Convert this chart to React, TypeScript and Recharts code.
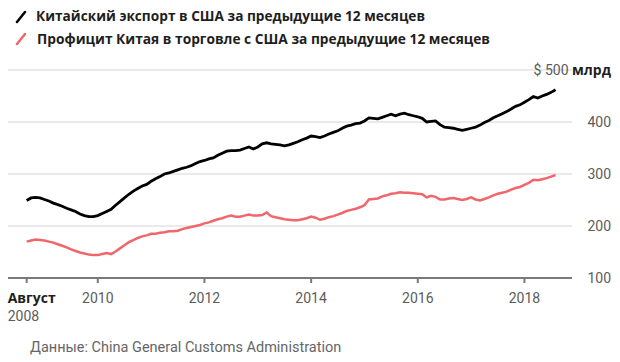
import { LineChart, Line, XAxis, YAxis, CartesianGrid } from 'recharts';

// Китайский экспорт в США за 12 мес., млрд $ (помесячно с авг. 2008)
const chinaExports = [
  249, 254, 255, 254, 251, 248, 244, 241, 238, 234,
  231, 228, 223, 220, 218, 218, 220, 224, 228, 232,
  240, 247, 254, 261, 267, 272, 277, 280, 286, 291,
  295, 300, 302, 305, 308, 311, 313, 316, 320, 324,
  326, 329, 331, 336, 340, 344, 345, 345, 346, 349,
  352, 348, 352, 358, 360, 358, 357, 356, 354, 356,
  359, 362, 366, 369, 373, 372, 370, 373, 377, 380,
  383, 388, 392, 394, 397, 398, 402, 408, 407, 406,
  409, 412, 415, 412, 415, 417, 414, 412, 410, 407,
  400, 401, 402, 395, 390, 389, 388, 386, 384, 386,
  388, 390, 394, 399, 403, 408, 412, 416, 420, 425,
  430, 433, 438, 443, 449, 446, 450, 453, 457, 462,
];

// Профицит Китая в торговле с США за 12 мес., млрд $
const tradeSurplus = [
  170, 172, 174, 173, 172, 170, 168, 165, 162, 159,
  155, 152, 149, 147, 145, 144, 144, 146, 148, 146,
  151, 157, 163, 169, 173, 177, 180, 182, 185, 185,
  187, 188, 190, 190, 191, 194, 196, 198, 200, 202,
  205, 207, 210, 213, 215, 218, 220, 218, 218, 220,
  222, 220, 220, 221, 226, 219, 217, 215, 213, 212,
  211, 211, 213, 215, 218, 216, 212, 214, 217, 219,
  222, 225, 229, 231, 233, 236, 240, 251, 252, 253,
  257, 259, 262, 263, 265, 264, 264, 263, 262, 261,
  255, 258, 256, 251, 251, 253, 254, 252, 250, 252,
  255, 251, 249, 252, 255, 259, 262, 264, 266, 270,
  273, 275, 279, 283, 289, 288, 290, 292, 295, 298,
];

const xTicks = [0, 16, 40, 64, 88, 112];
const xTickLabels = ['Август', '2010', '2012', '2014', '2016', '2018'];
const yTicks = [100, 200, 300, 400, 500];

const data = chinaExports.map((v, i) => ({
  month: i,
  exports: v,
  surplus: tradeSurplus[i],
}));

const FONT = 'Roboto, "Noto Sans", sans-serif';
const BOLD_FONT = '"Open Sans", "Noto Sans", sans-serif';
const GRAY = '#5c5c5c';
const RED = '#f0666b';

function XTick(props: any) {
  const { x, y, payload } = props;
  const idx = xTicks.indexOf(payload.value);
  if (idx === 0) {
    return (
      <g fontSize={14}>
        <text x={x - 19} y={y + 20} fill="#1e1e1e" fontWeight={700} fontFamily={BOLD_FONT}
          textLength={48} lengthAdjust="spacingAndGlyphs">
          {xTickLabels[0]}
        </text>
        <text x={x - 19} y={y + 38} fill={GRAY} fontFamily={FONT}>2008</text>
      </g>
    );
  }
  return (
    <text x={x} y={y + 20} textAnchor="middle" fontFamily={FONT} fontSize={14} fill={GRAY}>
      {xTickLabels[idx]}
    </text>
  );
}

function YTick(props: any) {
  const { x, y, payload } = props;
  if (payload.value === 500) {
    return (
      <text x={x + 39} y={y + 5} textAnchor="end" fontFamily={FONT} fontSize={14} fill={GRAY}>
        <tspan>$ 500 </tspan>
        <tspan fill="#1e1e1e" fontWeight={700} fontFamily={BOLD_FONT}>млрд</tspan>
      </text>
    );
  }
  return (
    <text x={x + 39} y={y + 5} textAnchor="end" fontFamily={FONT} fontSize={14} fill={GRAY}>
      {payload.value}
    </text>
  );
}

export default function App() {
  return (
    <div style={{ position: 'relative', width: 620, height: 362, background: '#fff', fontFamily: FONT }}>
      <style>{'body{margin:0}'}</style>

      <div style={{ position: 'absolute', left: 0, top: 0 }}>
        <LineChart
          width={620}
          height={362}
          data={data}
          margin={{ top: 70, right: 8, left: 8, bottom: 54 }}
        >
          <CartesianGrid vertical={false} stroke="#e3e3e3" strokeWidth={1.5} />
          <XAxis
            dataKey="month"
            type="number"
            domain={[-4.2, 122.7]}
            ticks={xTicks}
            interval={0}
            tick={<XTick />}
            tickSize={5}
            tickMargin={0}
            height={30}
            axisLine={{ stroke: '#7a7a7a', strokeWidth: 2 }}
            tickLine={{ stroke: '#7a7a7a', strokeWidth: 2 }}
          />
          <YAxis
            orientation="right"
            domain={[100, 500]}
            ticks={yTicks}
            interval={0}
            width={40}
            tickSize={0}
            tickMargin={0}
            axisLine={false}
            tickLine={false}
            tick={<YTick />}
          />
          <Line
            type="linear"
            dataKey="surplus"
            stroke={RED}
            strokeWidth={2.5}
            dot={false}
            isAnimationActive={false}
          />
          <Line
            type="linear"
            dataKey="exports"
            stroke="#000"
            strokeWidth={2.8}
            dot={false}
            isAnimationActive={false}
          />
        </LineChart>
      </div>

      {/* легенда */}
      <svg style={{ position: 'absolute', left: 0, top: 0 }} width={620} height={60}>
        <line x1={17} y1={22} x2={25} y2={12} stroke="#000" strokeWidth={2.5} strokeLinecap="round" />
        <line x1={17} y1={44} x2={25} y2={34} stroke={RED} strokeWidth={2.5} strokeLinecap="round" />
        <text x={36} y={21} fontFamily={BOLD_FONT} fontSize={13.5} fontWeight={700} fill="#1e1e1e"
          textLength={389} lengthAdjust="spacingAndGlyphs">
          Китайский экспорт в США за предыдущие 12 месяцев
        </text>
        <text x={37} y={43.5} fontFamily={BOLD_FONT} fontSize={13.5} fontWeight={700} fill="#1e1e1e"
          textLength={453} lengthAdjust="spacingAndGlyphs">
          Профицит Китая в торговле с США за предыдущие 12 месяцев
        </text>
      </svg>

      <div
        style={{
          position: 'absolute',
          left: 30,
          top: 339,
          fontSize: 14.5,
          color: '#666',
          whiteSpace: 'nowrap',
          lineHeight: '18px',
        }}
      >
        Данные: China General Customs Administration
      </div>
    </div>
  );
}
